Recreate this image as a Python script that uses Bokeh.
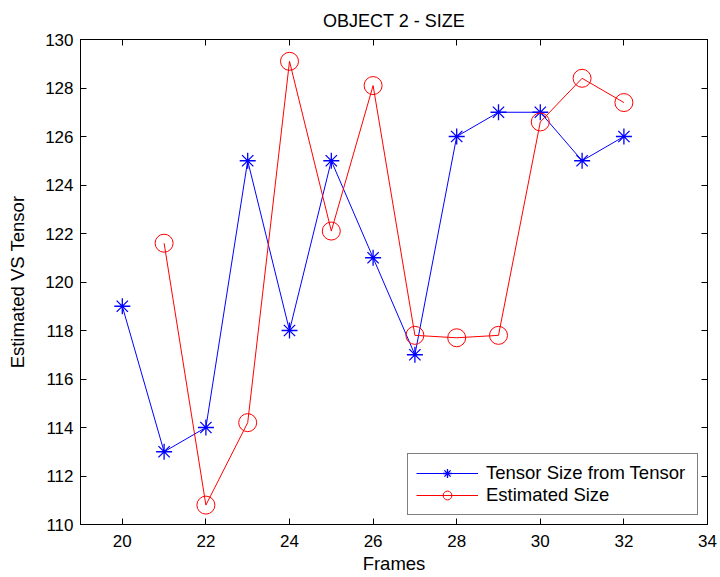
from bokeh.plotting import figure
from bokeh.models import LinearAxis, FixedTicker, Range1d, Legend, LegendItem
from bokeh.embed import file_html
from bokeh.resources import INLINE

# ---- data ----
frames_tensor = [20, 21, 22, 23, 24, 25, 26, 27, 28, 29, 30, 31, 32]
size_tensor = [119, 113, 114, 125, 118, 125, 121, 117, 126, 127, 127, 125, 126]
frames_est = [21, 22, 23, 24, 25, 26, 27, 28, 29, 30, 31, 32]
size_est = [121.6, 110.8, 114.2, 129.1, 122.1, 128.1, 117.8, 117.7, 117.8, 126.6, 128.4, 127.4]
x_ticks = [20, 22, 24, 26, 28, 30, 32, 34]
y_ticks = [110, 112, 114, 116, 118, 120, 122, 124, 126, 128, 130]

FONT = "Liberation Sans"

p = figure(width=720, height=577, output_backend="svg", toolbar_location=None,
           x_range=Range1d(19, 34), y_range=Range1d(110, 130),
           min_border_left=80, min_border_right=13, min_border_top=38, min_border_bottom=53,
           title="OBJECT 2 - SIZE")
p.background_fill_color = "white"
p.border_fill_color = "white"
p.outline_line_color = "black"
p.outline_line_width = 1
p.grid.visible = False

p.title.align = "center"
p.title.text_font = FONT
p.title.text_font_style = "normal"
p.title.text_font_size = "18px"
p.title.text_color = "black"
p.title.standoff = 17

p.add_layout(LinearAxis(), "above")
p.add_layout(LinearAxis(), "right")

for ax in p.xaxis:
    ax.ticker = FixedTicker(ticks=x_ticks)
for ax in p.yaxis:
    ax.ticker = FixedTicker(ticks=y_ticks)

for ax in p.axis:
    ax.axis_line_color = "black"
    ax.major_tick_line_color = "black"
    ax.major_tick_in = 6
    ax.major_tick_out = 0
    ax.minor_tick_line_color = None
    ax.major_label_text_font = FONT
    ax.major_label_text_font_size = "17px"
    ax.major_label_text_color = "black"
    ax.axis_label_text_font = FONT
    ax.axis_label_text_font_size = "18.5px"
    ax.axis_label_text_font_style = "normal"
    ax.axis_label_text_color = "black"

for ax in (p.above[0], p.right[0]):
    ax.major_label_text_color = None
    ax.major_label_text_font_size = "1px"
    ax.major_label_standoff = 0

p.below[0].axis_label = "Frames"
p.below[0].major_label_standoff = 10
p.below[0].axis_label_standoff = 3
p.left[0].axis_label = "Estimated VS Tensor"
p.left[0].major_label_standoff = 7
p.left[0].axis_label_standoff = 14

blue = "#0000ff"
red = "#ff0000"

l1 = p.line(frames_tensor, size_tensor, line_color=blue, line_width=1)
s1 = p.scatter(frames_tensor, size_tensor, marker="asterisk", size=16,
               line_color=blue, line_width=1.3)
l2 = p.line(frames_est, size_est, line_color=red, line_width=1)
s2 = p.scatter(frames_est, size_est, marker="circle", size=18,
               line_color=red, fill_color=None, line_width=1)

legend = Legend(items=[
    LegendItem(label="Tensor Size from Tensor", renderers=[l1, s1]),
    LegendItem(label="Estimated Size", renderers=[l2, s2]),
])
legend.location = "bottom_right"
legend.margin = 9
legend.padding = 8
legend.spacing = 0
legend.glyph_width = 62
legend.glyph_height = 22
legend.label_height = 22
legend.label_width = 203
legend.label_standoff = 8
legend.label_text_font = FONT
legend.label_text_font_size = "18.5px"
legend.label_text_color = "black"
legend.border_line_color = "black"
legend.border_line_width = 1
legend.background_fill_color = "white"
legend.background_fill_alpha = 1
p.add_layout(legend, "center")

open("out.html", "w").write(file_html(p, INLINE))
